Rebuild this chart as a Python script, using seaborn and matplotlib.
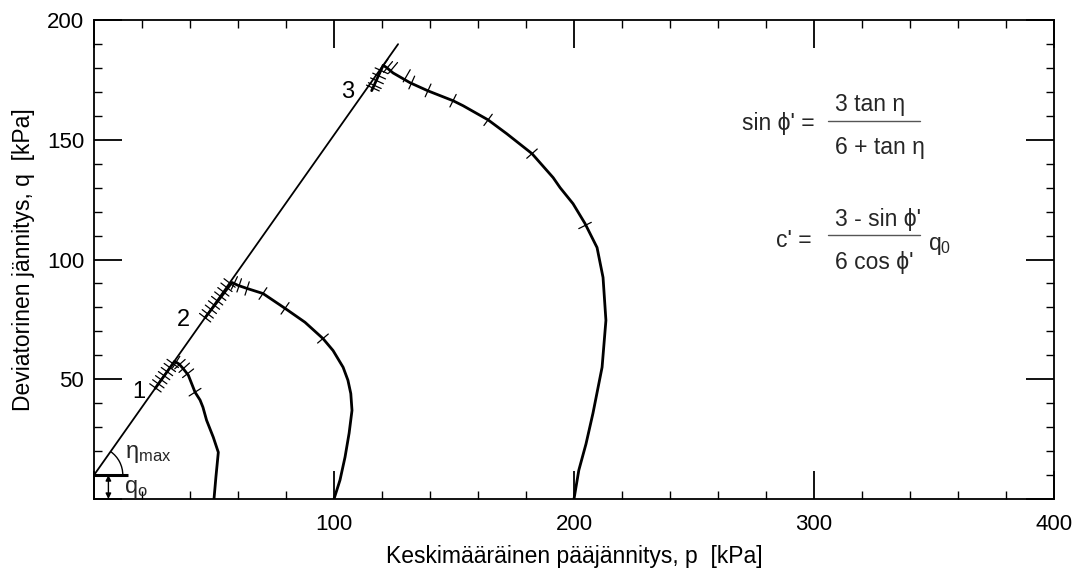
import numpy as np
import matplotlib
matplotlib.use("Agg")
import matplotlib.pyplot as plt
import seaborn as sns
from matplotlib.patches import Arc
from matplotlib.ticker import MultipleLocator, FuncFormatter

# Effective stress paths of three undrained triaxial tests (p, q in kPa)
path1_p = [50.0, 50.8, 51.8, 49.7, 46.9, 45.4, 44.2, 42.1, 39.3, 37.2, 35.5, 33.6, 25.5]
path1_q = [0.0, 9.2, 19.5, 25.8, 32.9, 38.3, 41.3, 44.6, 51.7, 54.4, 56.3, 57.5, 46.2]

path2_p = [100.0, 102.5, 104.6, 106.3, 107.5, 107.0, 105.8, 103.8, 99.6, 95.4, 87.9,
           79.6, 70.4, 63.8, 60.0, 57.5, 46.3]
path2_q = [0.0, 7.9, 17.5, 27.5, 37.0, 44.0, 49.6, 55.0, 62.0, 67.0, 73.8,
           79.6, 85.8, 87.9, 89.2, 90.4, 75.7]

path3_p = [200.0, 202.0, 205.0, 207.9, 211.7, 213.3, 212.1, 209.6, 204.6, 199.6, 194.2,
           191.3, 182.5, 172.0, 164.2, 153.8, 149.6, 139.2, 131.7, 124.6, 122.1, 120.5, 115.7]
path3_q = [0.0, 12.0, 23.0, 35.8, 55.0, 74.6, 92.5, 105.0, 115.0, 123.3, 130.0,
           134.2, 144.2, 152.5, 158.3, 164.2, 166.3, 170.4, 173.8, 177.9, 180.0, 181.1, 170.5]

# Strain markers along each path
marks1_p = [42.1, 39.2, 37.6, 35.8, 34.2, 32.8, 31.6, 30.4, 29.2, 28.0, 26.8, 25.6]
marks1_q = [44.6, 52.5, 54.8, 56.3, 57.1, 56.6, 54.9, 53.2, 51.5, 49.8, 48.1, 46.4]

marks2_p = [95.4, 79.6, 70.4, 63.8, 60.5, 58.5, 56.5, 55.2, 53.9, 52.6, 51.3, 50.0, 48.7, 47.4, 46.3]
marks2_q = [67.0, 79.6, 85.8, 87.9, 89.2, 90.2, 90.2, 88.4, 86.5, 84.7, 82.8, 81.0, 79.2, 77.3, 75.7]

marks3_p = [204.6, 182.5, 164.2, 149.6, 139.2, 132.4, 130.3, 124.6, 122.5, 120.8,
            119.8, 118.8, 117.9, 117.0, 116.2]
marks3_q = [114.2, 144.2, 158.3, 166.3, 170.6, 173.9, 176.7, 180.0, 180.4, 181.2,
            178.8, 176.6, 174.6, 172.6, 171.6]

# Failure envelope q = q0 + M p
q0 = 10.0
M = 1.42
envelope_p = [0.0, 126.7]
envelope_q = [q0 + M * p for p in envelope_p]

path_labels = ["1", "2", "3"]
path_label_p = [18.7, 37.1, 105.8]
path_label_q = [44.6, 74.6, 170.0]

x_ticks = [0, 100, 200, 300, 400]
y_ticks = [0, 50, 100, 150, 200]

sns.set_theme(style="white")
plt.rcParams["font.family"] = ["Liberation Sans", "DejaVu Sans"]
plt.rcParams["mathtext.fontset"] = "custom"
plt.rcParams["mathtext.rm"] = "Liberation Sans"
plt.rcParams["mathtext.it"] = "Liberation Sans"
plt.rcParams["mathtext.default"] = "regular"

fig = plt.figure(figsize=(10.72, 5.68), dpi=100)
ax = fig.add_axes([94 / 1072, 69 / 568, 960 / 1072, 479 / 568])
ax.set_xlim(0, 400)
ax.set_ylim(0, 200)

for s in ax.spines.values():
    s.set_color("black")
    s.set_linewidth(1.3)

# failure line
sns.lineplot(x=envelope_p, y=envelope_q, ax=ax, color="black", lw=1.3,
             sort=False, estimator=None)

paths = [(path1_p, path1_q, marks1_p, marks1_q),
         (path2_p, path2_q, marks2_p, marks2_q),
         (path3_p, path3_q, marks3_p, marks3_q)]

for pp, qq, mp, mq in paths:
    sns.lineplot(x=pp, y=qq, ax=ax, color="black", lw=2.0, sort=False, estimator=None)

# strain markers drawn perpendicular to the path, in display space
half_len = 7.0
for pp, qq, mp, mq in paths:
    pts = ax.transData.transform(np.column_stack([pp, qq]))
    for p, q in zip(mp, mq):
        c = ax.transData.transform((p, q))
        best, dvec = None, None
        for i in range(len(pts) - 1):
            a, b = pts[i], pts[i + 1]
            ab = b - a
            L2 = ab @ ab
            if L2 == 0:
                continue
            t = np.clip((c - a) @ ab / L2, 0, 1)
            d = np.linalg.norm(a + t * ab - c)
            if best is None or d < best:
                best, dvec = d, ab / np.sqrt(L2)
        n = np.array([-dvec[1], dvec[0]])
        seg = ax.transData.inverted().transform(np.vstack([c - n * half_len, c + n * half_len]))
        ax.plot(seg[:, 0], seg[:, 1], color="black", lw=0.9)

for lab, p, q in zip(path_labels, path_label_p, path_label_q):
    ax.text(p, q, lab, fontsize=17, ha="center", va="center", color="black")

# q0 intercept and inclination angle
ax.plot([0, 14], [q0, q0], color="black", lw=2.2, solid_capstyle="butt")
ax.annotate("", xy=(6, 0), xytext=(6, q0),
            arrowprops=dict(arrowstyle="<|-|>", lw=1.0, color="black",
                            mutation_scale=8, shrinkA=0, shrinkB=0))
ax.text(12.5, 4.0, "q$_{o}$", fontsize=17, ha="left", va="center")
eta = np.degrees(np.arctan(M))
ax.add_patch(Arc((0, q0), 24, 24, theta1=0, theta2=eta, color="black", lw=1.0))
ax.text(13.0, 18.8, "η$_{max}$", fontsize=17, ha="left", va="center")

# formulas
fam = ["Liberation Sans", "DejaVu Sans"]
fs = 16.5
ax.text(300.4, 156.7, "sin ϕ' =", fontsize=fs, ha="right", va="center", family=fam)
ax.plot([305.8, 344.2], [157.9, 157.9], color="#555555", lw=1.0)
ax.text(308.7, 164.8, "3 tan η", fontsize=fs, ha="left", va="center", family=fam)
ax.text(308.7, 146.8, "6 + tan η", fontsize=fs, ha="left", va="center", family=fam)

ax.text(299.2, 107.9, "c' =", fontsize=fs, ha="right", va="center", family=fam)
ax.plot([305.8, 344.2], [110.4, 110.4], color="#555555", lw=1.0)
ax.text(308.7, 116.8, "3 - sin ϕ'", fontsize=fs, ha="left", va="center", family=fam)
ax.text(308.7, 98.8, "6 cos ϕ'", fontsize=fs, ha="left", va="center", family=fam)
ax.text(347.5, 105.8, "q$_{0}$", fontsize=fs, ha="left", va="center", family=fam)

# axes, ticks and labels
ax.set_xticks(x_ticks)
ax.set_yticks(y_ticks)
ax.xaxis.set_minor_locator(MultipleLocator(20))
ax.yaxis.set_minor_locator(MultipleLocator(10))
hide_zero = FuncFormatter(lambda v, pos: "" if v == 0 else f"{v:g}")
ax.xaxis.set_major_formatter(hide_zero)
ax.yaxis.set_major_formatter(hide_zero)
ax.tick_params(which="major", direction="in", length=20, width=1.3, color="black",
               top=True, right=True, bottom=True, left=True,
               labelsize=16, labelcolor="black")
ax.tick_params(axis="x", which="major", pad=11)
ax.tick_params(axis="y", which="major", pad=7)
ax.tick_params(which="minor", direction="in", length=6, width=1.0, color="black",
               top=True, right=True, bottom=True, left=True)

ax.set_xlabel("Keskimääräinen pääjännitys, p  [kPa]", fontsize=16.5, color="black", labelpad=7)
ax.set_ylabel("Deviatorinen jännitys, q  [kPa]", fontsize=16.5, color="black", labelpad=9)

fig.savefig("out.png", dpi=100, facecolor="white")
